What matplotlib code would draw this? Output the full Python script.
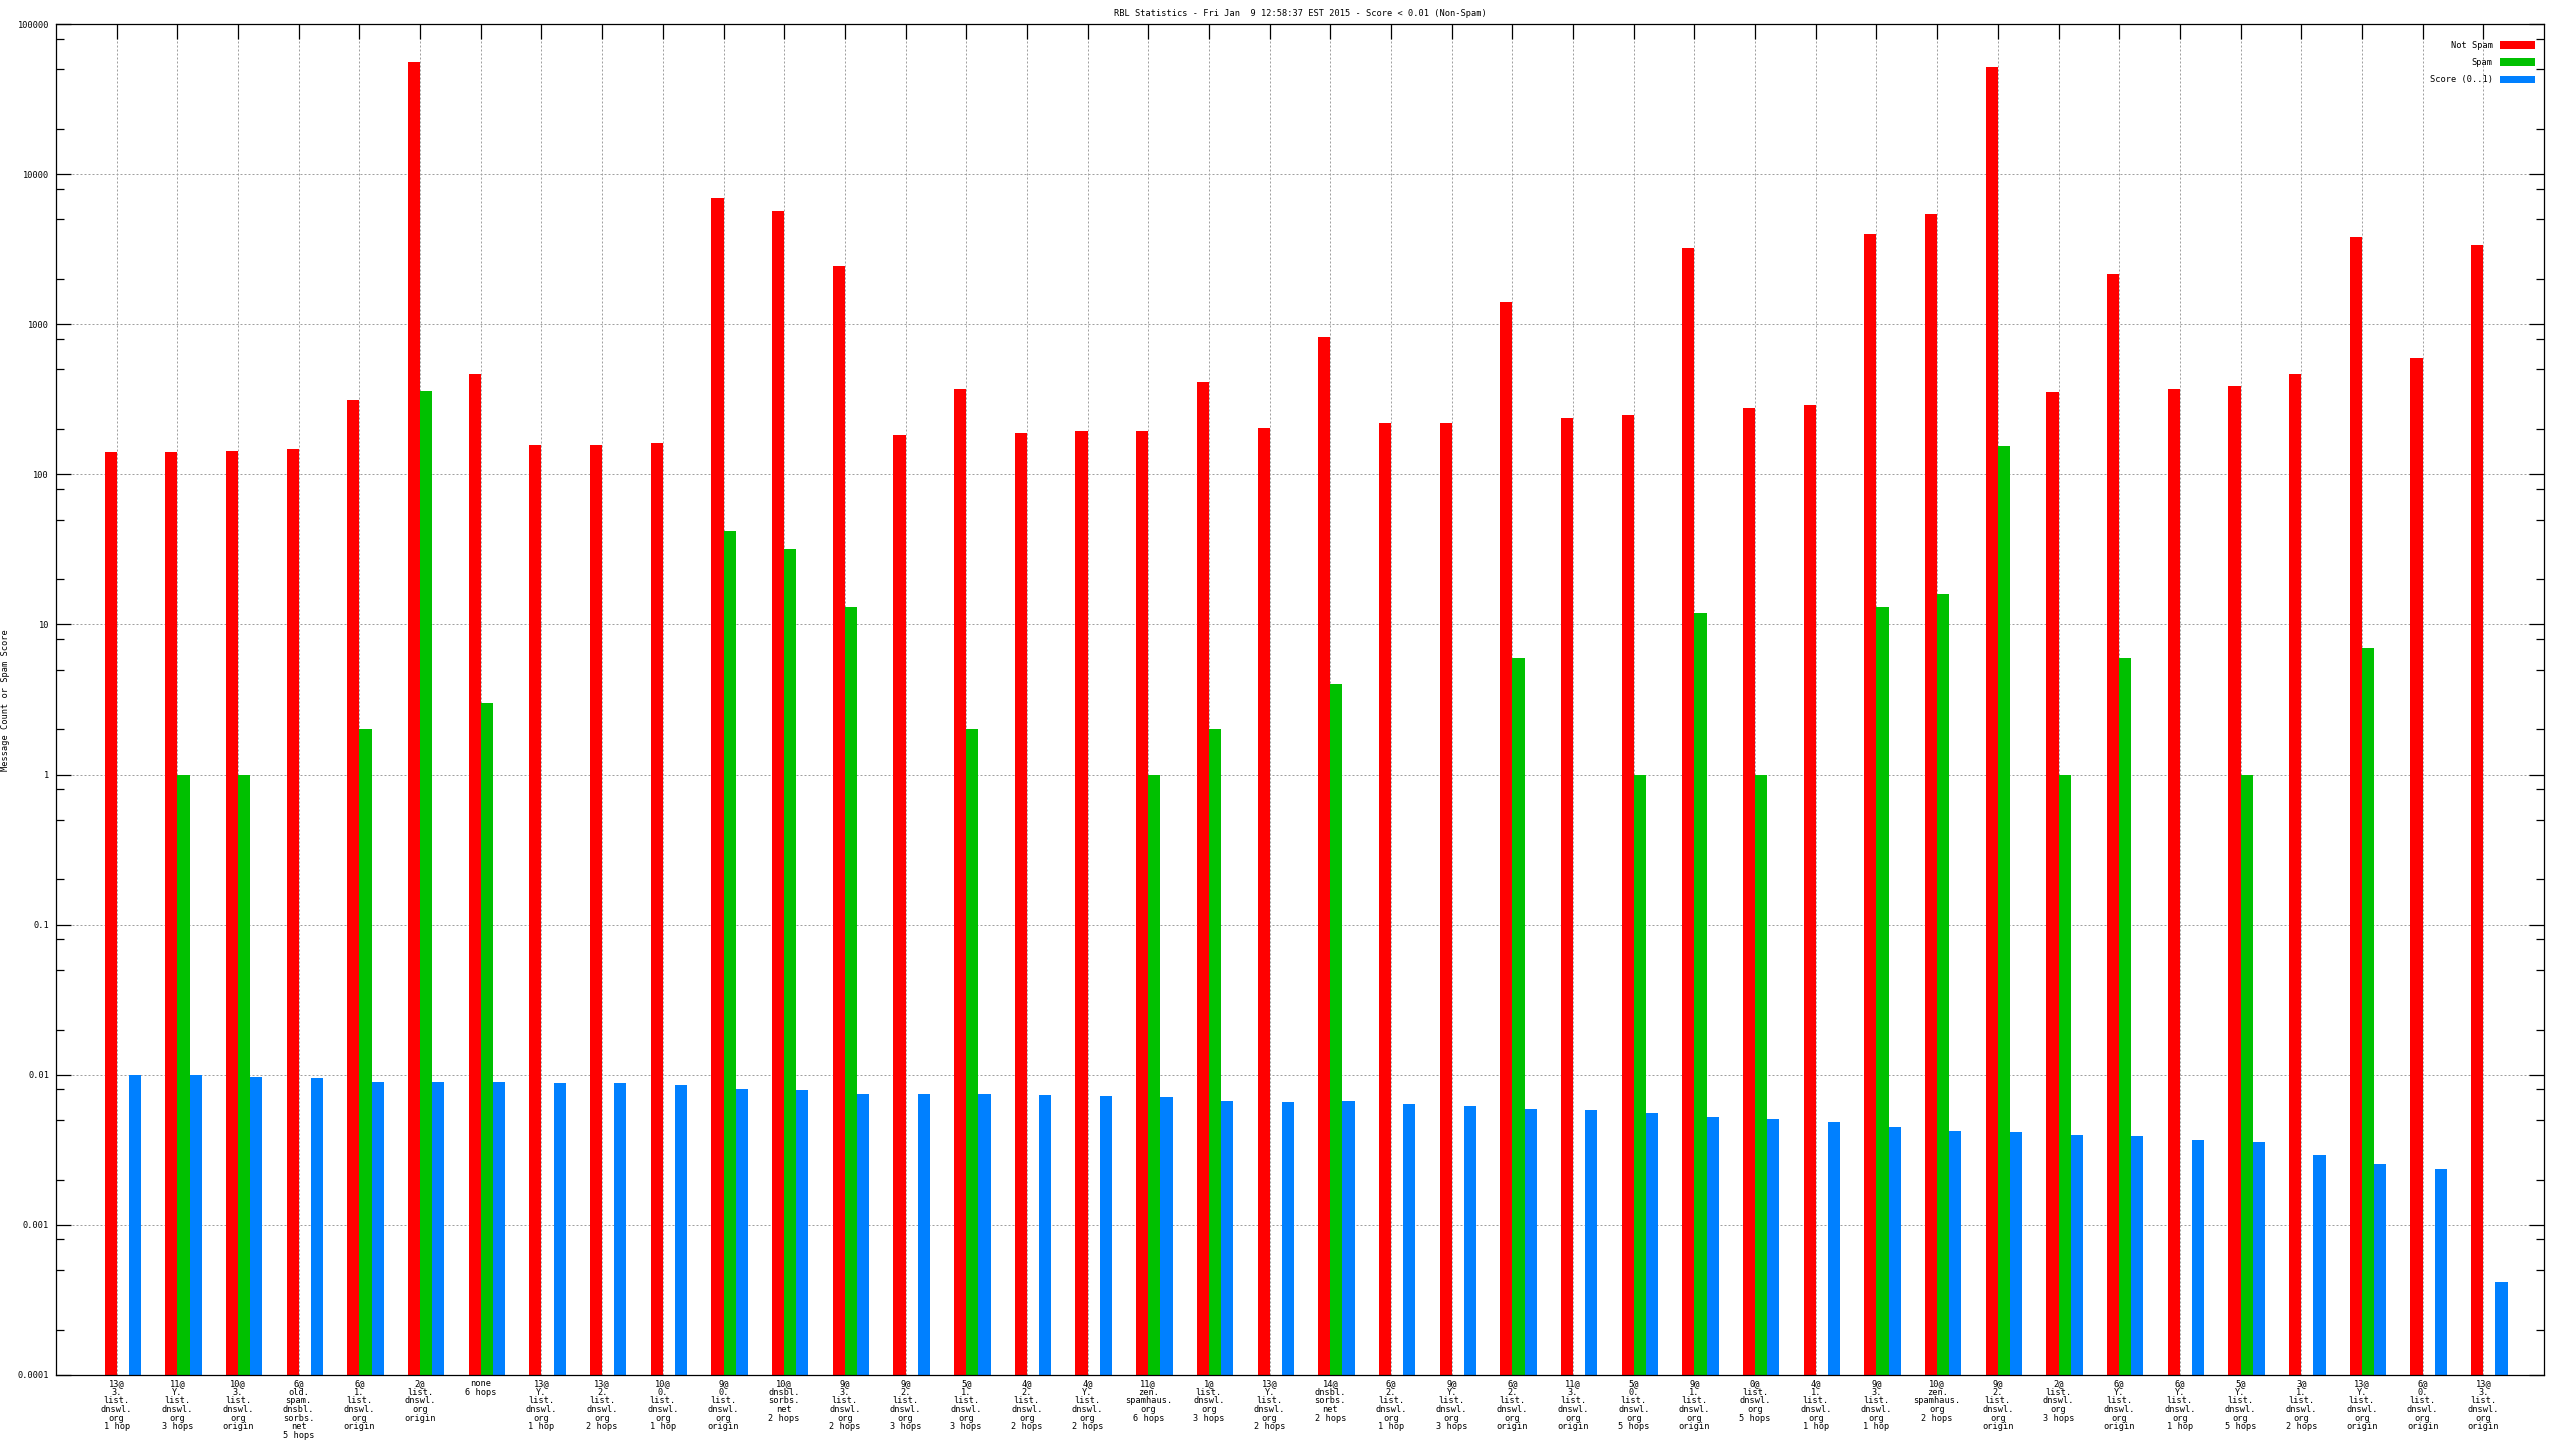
import numpy as np
import matplotlib
matplotlib.use("Agg")
import matplotlib.pyplot as plt
from matplotlib.ticker import LogLocator, FixedLocator, NullFormatter

# ---------------- data ----------------
categories = [
    "13@\n3.\nlist.\ndnswl.\norg\n1 hop",
    "11@\nY.\nlist.\ndnswl.\norg\n3 hops",
    "10@\n3.\nlist.\ndnswl.\norg\norigin",
    "6@\nold.\nspam.\ndnsbl.\nsorbs.\nnet\n5 hops",
    "6@\n1.\nlist.\ndnswl.\norg\norigin",
    "2@\nlist.\ndnswl.\norg\norigin",
    "none\n6 hops",
    "13@\nY.\nlist.\ndnswl.\norg\n1 hop",
    "13@\n2.\nlist.\ndnswl.\norg\n2 hops",
    "10@\n0.\nlist.\ndnswl.\norg\n1 hop",
    "9@\n0.\nlist.\ndnswl.\norg\norigin",
    "10@\ndnsbl.\nsorbs.\nnet\n2 hops",
    "9@\n3.\nlist.\ndnswl.\norg\n2 hops",
    "9@\n2.\nlist.\ndnswl.\norg\n3 hops",
    "5@\n1.\nlist.\ndnswl.\norg\n3 hops",
    "4@\n2.\nlist.\ndnswl.\norg\n2 hops",
    "4@\nY.\nlist.\ndnswl.\norg\n2 hops",
    "11@\nzen.\nspamhaus.\norg\n6 hops",
    "1@\nlist.\ndnswl.\norg\n3 hops",
    "13@\nY.\nlist.\ndnswl.\norg\n2 hops",
    "14@\ndnsbl.\nsorbs.\nnet\n2 hops",
    "6@\n2.\nlist.\ndnswl.\norg\n1 hop",
    "9@\nY.\nlist.\ndnswl.\norg\n3 hops",
    "6@\n2.\nlist.\ndnswl.\norg\norigin",
    "11@\n3.\nlist.\ndnswl.\norg\norigin",
    "5@\n0.\nlist.\ndnswl.\norg\n5 hops",
    "9@\n1.\nlist.\ndnswl.\norg\norigin",
    "0@\nlist.\ndnswl.\norg\n5 hops",
    "4@\n1.\nlist.\ndnswl.\norg\n1 hop",
    "9@\n3.\nlist.\ndnswl.\norg\n1 hop",
    "10@\nzen.\nspamhaus.\norg\n2 hops",
    "9@\n2.\nlist.\ndnswl.\norg\norigin",
    "2@\nlist.\ndnswl.\norg\n3 hops",
    "6@\nY.\nlist.\ndnswl.\norg\norigin",
    "6@\nY.\nlist.\ndnswl.\norg\n1 hop",
    "5@\nY.\nlist.\ndnswl.\norg\n5 hops",
    "3@\n1.\nlist.\ndnswl.\norg\n2 hops",
    "13@\nY.\nlist.\ndnswl.\norg\norigin",
    "6@\n0.\nlist.\ndnswl.\norg\norigin",
    "13@\n3.\nlist.\ndnswl.\norg\norigin",
]

not_spam = [140, 140, 143, 147, 311, 55700, 464, 158, 158, 162,
            6970, 5700, 2430, 184, 371, 188, 193, 195, 410, 203,
            826, 219, 219, 1403, 236, 248, 3205, 275, 288, 4020,
            5420, 51800, 352, 2150, 371, 390, 464, 3820, 597, 3375]

spam = [0, 1, 1, 0, 2, 361, 3, 0, 0, 0,
        42, 32, 13, 0, 2, 0, 0, 1, 2, 0,
        4, 0, 0, 6, 0, 1, 12, 1, 0, 13,
        16, 154, 1, 6, 0, 1, 0, 7, 0, 0]

score = [0.0100, 0.0099, 0.0097, 0.00945, 0.0090, 0.0089, 0.0089, 0.00875, 0.00875, 0.0086,
         0.0080, 0.0079, 0.0075, 0.0075, 0.0074, 0.0073, 0.0072, 0.0071, 0.0067, 0.0066,
         0.00664, 0.00634, 0.00624, 0.00596, 0.00579, 0.00553, 0.00520, 0.00504, 0.00481, 0.00446,
         0.00419, 0.00413, 0.00394, 0.00388, 0.00370, 0.00354, 0.00294, 0.00256, 0.00234, 0.000419]

series_names = ["Not Spam", "Spam", "Score (0..1)"]
series_colors = ["#ff0000", "#00c000", "#0080ff"]

y_ticks = [1e-4, 1e-3, 1e-2, 1e-1, 1, 10, 100, 1000, 10000, 100000]
y_tick_labels = ["0.0001", "0.001", "0.01", "0.1", "1", "10", "100", "1000", "10000", "100000"]

title = "RBL Statistics - Fri Jan  9 12:58:37 EST 2015 - Score < 0.01 (Non-Spam)"
ylabel = "Message Count or Spam Score"

# ---------------- figure ----------------
FONT = "DejaVu Sans Mono"
FS = 6.2
plt.rcParams["font.family"] = FONT
plt.rcParams["font.size"] = FS

W, H = 2560, 1440
fig = plt.figure(figsize=(W / 100, H / 100), dpi=100)
L, R, T, B = 56, 2544, 24, 1375
ax = fig.add_axes([L / W, 1 - B / H, (R - L) / W, (B - T) / H])

ax.set_yscale("log")
ax.set_ylim(y_ticks[0], y_ticks[-1])
n = len(categories)
ax.set_xlim(-1, n)

x = np.arange(n)
bw = 0.2
for k, (vals, col, name) in enumerate(zip([not_spam, spam, score], series_colors, series_names)):
    v = np.asarray(vals, dtype=float)
    m = v > 0
    ax.bar(x[m] - bw + k * bw, v[m], width=bw, align="edge", color=col,
           linewidth=0, zorder=2, label=name)

# axes styling
for s in ax.spines.values():
    s.set_linewidth(0.9)
    s.set_color("black")
    s.set_zorder(3)

ax.yaxis.set_major_locator(FixedLocator(y_ticks))
ax.set_yticklabels(y_tick_labels)
ax.yaxis.set_minor_locator(LogLocator(base=10, subs=[2, 5, 8], numticks=30))
ax.yaxis.set_minor_formatter(NullFormatter())
ax.set_xticks(x)
ax.set_xticklabels(categories, linespacing=0.95, va="top")

ax.tick_params(axis="both", which="major", direction="in", length=10.8, width=0.9,
               top=True, right=True, labelsize=FS, color="black")
ax.tick_params(axis="x", which="major", bottom=False, labelbottom=True, pad=3)
ax.tick_params(axis="y", which="minor", direction="in", length=5.5, width=0.9,
               right=True)
ax.tick_params(axis="y", which="major", pad=5)

ax.grid(True, which="major", axis="both", color="#a0a0a0", linewidth=0.72,
        linestyle=(0, (2, 2)), zorder=1)
ax.set_axisbelow(True)

# title and y label
fig.text(1300 / W, 1 - 13 / H, title, ha="center", va="center", fontsize=FS)
fig.text(6 / W, 1 - 700 / H, ylabel, ha="center", va="center", rotation=90, fontsize=FS)

# legend
leg = ax.legend(loc="upper right", bbox_to_anchor=(2535 / W, 1 - 41 / H),
                bbox_transform=fig.transFigure, frameon=False, markerfirst=False,
                fontsize=FS, handlelength=4.1, handleheight=1.0, labelspacing=0.95,
                handletextpad=0.8, borderpad=0, borderaxespad=0)

fig.savefig("out.png", dpi=100, facecolor="white")
